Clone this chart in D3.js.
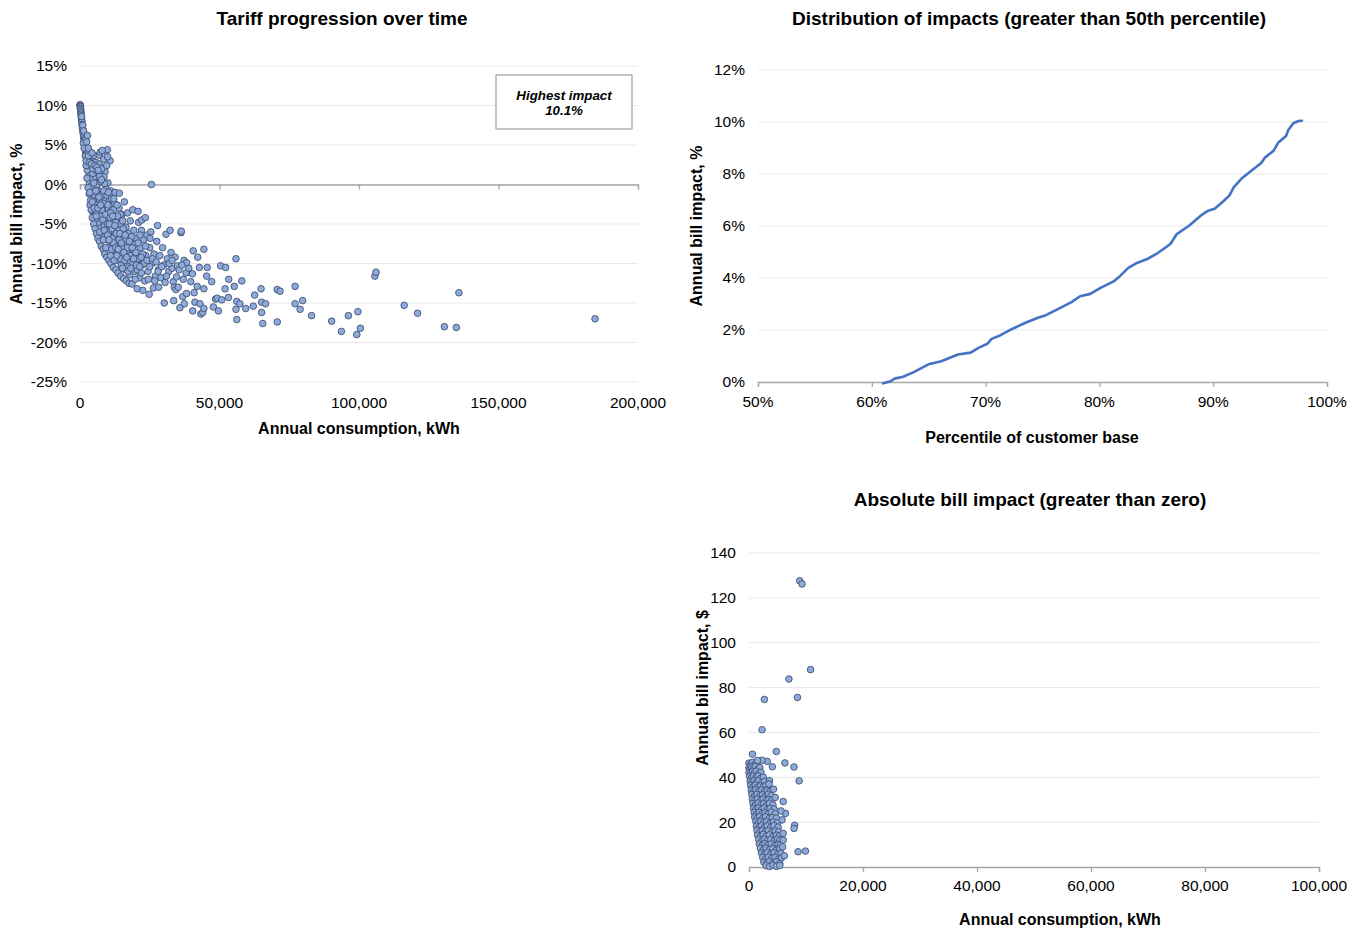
<!DOCTYPE html>
<html>
<head>
<meta charset="utf-8">
<script src="https://cdn.jsdelivr.net/npm/d3@7"></script>
<style>
  html, body { margin: 0; padding: 0; background: #ffffff; }
  svg { display: block; font-family: "Liberation Sans", Arial, sans-serif; }
</style>
</head>
<body>
<svg id="chart" width="1363" height="931"></svg>
<script>
// ---- Tariff progression: [annual consumption (thousand kWh), annual bill impact (%)]
const tariffPoints = [
  [0,10.1],[0.05,10.0],[0.1,10.05],[0.15,9.9],[0.2,9.8],[0.1,9.6],[0.25,9.5],[0.3,9.3],[0.35,9.1],[0.4,8.9],
  [0.45,8.7],[0.5,8.5],[0.55,8.3],[0.6,8.1],[0.7,7.9],[0.75,7.6],[0.8,7.4],[0.9,7.1],[1.0,6.9],[1.1,6.6],
  [1.2,6.4],[1.3,6.1],[1.4,5.8],[1.5,5.6],[1.6,5.3],[1.7,5.0],[1.8,4.8],[1.9,4.5],[2.0,4.3],[2.1,4.0],
  [2.2,3.8],[2.3,3.5],[2.5,3.2],[2.6,2.9],[2.8,2.6],[3.0,2.3],[3.1,2.0],[3.3,1.7],[3.5,1.4],[3.7,1.1],
  [3.9,0.8],[4.1,0.5],[4.3,0.2],[4.5,-0.1],[4.7,-0.4],[4.9,-0.7],[5.2,-1.0],[5.4,-1.3],[5.7,-1.6],[6.0,-1.9],[6.3,-2.2],
  [1.0,7.5],[0.6,8.6],[1.3,6.8],[1.8,5.6],[2.7,6.2],[2.4,4.6],[2.9,4.0],[3.4,3.6],[3.9,3.4],[4.4,3.0],
  [5.0,3.7],[5.7,2.8],[6.9,3.7],[7.3,4.1],[8.5,3.2],[9.3,4.2],[9.8,4.4],[10.8,3.0],[7.5,2.2],[6.3,1.1],
  [8.1,0.9],[10,0.2],[9.0,1.6],[4.8,2.2],[5.5,1.6],[6.6,0.3],[4.0,1.9],[3.6,2.6],[3.2,3.1],[2.8,3.5],
  [7.2,1.6],[8.8,0.1],[5.2,0.6],[6.0,-0.3],[7.0,-0.9],[8.2,-1.5],[9.4,-0.6],[11.0,-0.8],
  [3.0,1.0],[3.4,0.2],[3.8,-0.5],[4.2,0.8],[4.5,-1.4],[4.8,0.0],[5.0,-2.2],[5.3,-0.3],[5.6,1.0],[5.8,-2.8],
  [6.1,0.0],[6.4,-1.2],[6.7,-3.6],[7.0,-2.0],[7.3,0.4],[7.6,-1.4],[7.9,-4.4],[8.2,-2.8],[8.5,-0.8],[8.8,-3.6],
  [9.1,-2.0],[9.4,-4.6],[9.7,-1.4],[10.0,-3.6],[10.3,-5.6],[10.6,-2.0],[11.0,-4.6],[11.5,-3.0],[12.0,-5.8],[12.5,-2.4],
  [13.0,-4.2],[13.5,-7.0],[14.0,-3.0],[14.5,-5.0],[15.0,-3.8],[4.0,-0.2],[6.2,-2.6],[8.0,-3.2],[10.2,-1.0],[12.6,-1.0],
  [2.6,1.8],[3.2,2.4],[4.6,1.4],[5.9,1.8],[6.8,2.6],[7.8,2.0],[9.6,2.4],[8.6,1.0],
  [3.8,-2.0],[4.2,-2.8],[4.6,-3.5],[5.0,-4.0],[5.5,-3.2],[6.0,-3.5],[6.0,-4.6],[6.5,-5.0],[6.8,-2.8],[7.2,-4.0],
  [7.5,-5.5],[7.8,-3.2],[8.0,-6.0],[8.2,-4.5],[8.5,-2.4],[8.8,-5.2],[9.0,-6.6],[9.2,-3.8],[9.5,-7.0],[9.8,-5.0],
  [10.0,-2.6],[10.2,-6.1],[10.5,-8.0],[10.8,-4.2],[11.0,-7.2],[11.3,-1.8],[11.5,-5.6],[11.8,-8.5],[12.0,-3.2],[12.1,-1.8],
  [12.3,-6.6],[12.5,-9.0],[12.8,-4.8],[13.0,-7.8],[13.3,-2.6],[13.5,-9.6],[13.8,-5.8],[14.1,-1.1],[14.2,-8.6],[14.5,-3.8],
  [14.8,-10.2],[15.0,-6.8],[15.3,-4.6],[15.5,-9.2],[15.9,-2.2],[16.0,-7.6],[16.3,-10.8],[16.5,-5.4],[16.8,-8.4],[17.0,-3.6],
  [17.3,-9.8],[17.5,-6.2],[17.8,-11.4],[18.0,-4.6],[18.3,-7.4],[18.5,-10.4],[18.9,-3.2],[19.0,-8.8],[19.3,-5.8],[19.6,-11.0],
  [20.0,-6.8],[20.4,-9.6],[20.8,-3.4],[20.5,-13.2],[21.0,-4.8],[21.3,-11.8],[21.6,-8.0],[22.0,-5.8],[22.3,-10.2],[22.5,-13.4],
  [22.1,-4.5],[22.8,-7.0],[23.2,-12.2],[23.4,-4.2],[23.6,-9.0],[24.0,-6.4],[24.4,-11.0],[24.8,-13.9],[25.0,-8.0],[25.4,-6.0],
  [25.1,-6.8],[25.6,0.0],[25.8,-10.0],[26.3,-13.1],[26.5,-8.8],[27.0,-11.6],[27.5,-7.2],[27.8,-5.2],[28.1,-10.8],[28.2,-13.0],
  [28.6,-9.0],[29.0,-11.8],[29.6,-8.0],[30.0,-10.2],[30.2,-15.0],[30.5,-12.4],[30.8,-6.3],[31.3,-9.4],[31.8,-11.0],[32.3,-5.8],
  [32.6,-8.6],[33.0,-10.6],[33.4,-12.3],[33.6,-14.7],[33.8,-13.0],[34.1,-9.2],[34.4,-13.3],[34.6,-11.7],[34.9,-10.3],[35.2,-13.0],
  [35.8,-15.6],[36.2,-6.1],[36.3,-5.9],[36.8,-14.2],[37.3,-9.6],[37.4,-15.1],[38.2,-9.9],[38.2,-13.8],[38.8,-11.1],[39.7,-12.3],
  [40.3,-11.3],[40.4,-16.0],[40.6,-8.4],[40.9,-13.7],[41.2,-14.9],[42.0,-12.9],[42.2,-9.2],[42.8,-10.5],[43.0,-15.1],[43.3,-16.4],
  [44.0,-16.2],[44.4,-8.2],[44.4,-13.2],[44.4,-15.7],[45.4,-11.6],[45.6,-10.5],[47.2,-12.3],[47.8,-15.5],[48.6,-14.5],[49.2,-14.4],
  [49.6,-16.0],[50.4,-10.3],[50.8,-14.6],[52.0,-13.2],[52.2,-10.5],[53.2,-14.3],[53.3,-12.0],[55.3,-12.9],[55.9,-9.4],[55.9,-15.8],
  [56.2,-14.8],[56.2,-17.1],[57.3,-15.1],[58.0,-12.2],[59.4,-15.7],[62.1,-15.4],[62.6,-14.0],[64.9,-13.2],[65.1,-14.9],[65.1,-16.2],
  [65.5,-17.6],[66.5,-15.1],[70.7,-13.3],[71.7,-13.5],[70.7,-17.4],[77.1,-12.9],[77.1,-15.1],[78.9,-15.8],[79.8,-14.7],[83.0,-16.6],
  [90.2,-17.3],[93.7,-18.6],[96.2,-16.6],[99.6,-16.1],[100.5,-18.2],[99.2,-19.0],[105.7,-11.6],[106.1,-11.1],[116.2,-15.3],[121.0,-16.3],
  [130.6,-18.0],[134.9,-18.1],[135.8,-13.7],[184.6,-17.0],
  [10.5,-5.0],[11.0,-3.6],[11.5,-6.8],[12.0,-7.4],[12.5,-5.2],[13.0,-6.2],[13.5,-4.0],[14.0,-7.0],[14.5,-9.4],[15.0,-8.0],
  [15.5,-5.6],[16.0,-9.6],[16.5,-7.0],[17.0,-8.0],[17.5,-10.4],[18.0,-9.0],[18.5,-6.6],[19.0,-10.0],[19.5,-7.6],[20.0,-8.6],
  [20.5,-10.8],[21.0,-9.4],[21.5,-6.4],[22.0,-11.2],[22.5,-8.8],[23.0,-10.0],[23.5,-7.8],[24.0,-9.6],[24.5,-12.0],[25.0,-10.4],
  [26.0,-9.4],[26.8,-12.2],[27.3,-9.8],[28.0,-11.0],[29.3,-10.4],[31.0,-11.6],[32.0,-10.0],[33.0,-9.6],[35.5,-10.8],[36.5,-10.2],
  [37.0,-12.0],[38.0,-11.2],[39.0,-10.6],
  [2.2,2.4],[2.5,0.8],[2.9,-0.4],[3.3,-1.2],[3.6,-2.6],[4.0,-3.2],[4.4,-4.2],[4.9,-5.0],[5.4,-5.6],[5.9,-6.2],
  [6.4,-6.8],[7.0,-7.2],[7.6,-7.8],[8.3,-8.2],[8.9,-8.8],[9.6,-9.2],[10.3,-9.6],[11.1,-10.0],[11.9,-10.5],[12.8,-10.8],
  [13.6,-11.2],[14.6,-11.6],[15.6,-11.9],[16.6,-12.2],[17.6,-12.5],[18.6,-12.6],
  [3.5,-1.0],[4.4,-2.2],[5.1,-3.0],[5.8,-4.0],[6.4,-3.0],[7.1,-6.0],[7.4,-2.6],[8.4,-7.0],[8.7,-5.8],[9.3,-8.0],
  [9.9,-6.4],[10.4,-7.0],[10.9,-9.0],[11.4,-8.2],[11.7,-4.0],[12.2,-9.6],[12.8,-8.0],[13.2,-9.0],[13.7,-8.2],[14.3,-6.2],
  [14.8,-7.4],[15.2,-10.6],[15.7,-8.6],[16.2,-6.4],[16.7,-9.2],[17.2,-11.0],[17.7,-7.2],[18.2,-10.6],[18.7,-8.0],[19.2,-9.4],
  [19.8,-12.0],[20.2,-10.2],[20.8,-7.4],[21.4,-10.4],[21.9,-9.2],[1.2,5.2],[1.5,4.6],[1.9,3.6],[2.2,3.0],[2.4,5.4],
  [3.0,3.6],[3.4,2.8],[4.1,2.6],[4.6,2.0],[5.3,2.4],[6.0,2.2],[6.5,1.8],[7.0,1.0],[7.7,0.6],[5.0,0.2],
  [5.7,-0.8],[6.8,-1.6],[3.0,4.6],[4.3,4.0],[8.0,4.3],[9.9,3.5]
];
const tariffXTicks = [0, 50, 100, 150, 200];            // thousand kWh
const tariffYTicks = [15, 10, 5, 0, -5, -10, -15, -20, -25];
const highestImpact = 10.1;

// ---- Distribution of impacts: percentile of customer base (%) and bill impact (%)
const distPercentile = [61.0,61.65,62.0,62.76,63.68,64.98,66.1,67.57,68.68,69.42,70.16,70.53,71.27,72.38,73.5,74.6,75.3,76.4,77.55,78.3,79.2,80.1,81.25,81.8,82.54,83.3,84.2,85.13,86.24,86.8,87.9,89.0,89.56,90.13,90.87,91.42,91.8,92.53,93.46,94.2,94.57,95.3,95.7,96.4,96.6,97.04,97.5,97.8];
const distImpact     = [-0.05,0.03,0.13,0.2,0.38,0.68,0.8,1.06,1.13,1.32,1.47,1.66,1.79,2.05,2.28,2.47,2.57,2.81,3.07,3.3,3.39,3.62,3.87,4.07,4.39,4.58,4.73,4.96,5.31,5.69,6.02,6.43,6.59,6.66,6.94,7.17,7.49,7.84,8.16,8.41,8.64,8.89,9.2,9.46,9.69,9.95,10.04,10.05];
const distXTicks = [50, 60, 70, 80, 90, 100];
const distYTicks = [0, 2, 4, 6, 8, 10, 12];

// ---- Absolute bill impact: [annual consumption (thousand kWh), annual bill impact ($)]
const absolutePoints = [
  [0.0,46.3],[0.3,45.7],[0.6,46.6],[0.9,45.4],[1.2,46.1],
  [0.0,44.2],[0.2,43.6],[0.5,44.6],[0.8,43.9],[1.1,44.8],[1.5,43.4],[1.9,44.3],
  [0.0,42.1],[0.3,41.6],[0.6,42.5],[0.9,41.8],[1.3,42.7],[1.7,41.5],[2.1,42.2],
  [0.1,40.3],[0.4,39.6],[0.8,40.5],[1.2,39.8],[1.6,40.6],[2.0,39.5],[2.5,40.1],
  [0.2,38.2],[0.5,37.6],[0.9,38.5],[1.3,37.8],[1.7,38.4],[2.2,37.5],[2.7,38.1],
  [0.3,36.3],[0.7,35.7],[1.1,36.5],[1.5,35.6],[2.0,36.2],[2.5,35.8],[3.0,36.4],[3.5,35.5],
  [0.4,34.2],[0.8,33.6],[1.2,34.5],[1.7,33.8],[2.2,34.3],[2.7,33.5],[3.2,34.1],[3.7,33.7],
  [0.5,32.3],[0.9,31.5],[1.4,32.4],[1.9,31.7],[2.4,32.2],[2.9,31.6],[3.4,32.5],[3.9,31.8],
  [0.6,30.2],[1.0,29.6],[1.5,30.4],[2.0,29.7],[2.5,30.3],[3.0,29.5],[3.5,30.1],[4.0,29.8],
  [0.7,28.3],[1.1,27.6],[1.6,28.5],[2.1,27.8],[2.6,28.2],[3.1,27.5],[3.6,28.4],[4.2,27.7],
  [0.8,26.2],[1.2,25.6],[1.7,26.4],[2.2,25.7],[2.7,26.3],[3.2,25.5],[3.7,26.1],[4.4,25.8],
  [0.9,24.3],[1.3,23.5],[1.8,24.4],[2.3,23.7],[2.8,24.2],[3.3,23.6],[3.9,24.5],[4.6,23.8],
  [1.0,22.2],[1.4,21.6],[1.9,22.5],[2.4,21.7],[2.9,22.3],[3.5,21.5],[4.1,22.1],[4.8,21.8],
  [1.2,20.3],[1.6,19.6],[2.1,20.4],[2.6,19.8],[3.1,20.2],[3.7,19.5],[4.3,20.1],[5.0,19.7],
  [1.3,18.2],[1.7,17.5],[2.2,18.4],[2.7,17.7],[3.2,18.3],[3.8,17.6],[4.4,18.5],[5.1,17.8],
  [1.4,16.3],[1.9,15.6],[2.4,16.4],[2.9,15.8],[3.4,16.2],[4.0,15.5],[4.6,16.1],[5.2,15.7],
  [1.5,14.2],[2.0,13.6],[2.5,14.5],[3.0,13.7],[3.6,14.3],[4.2,13.5],[4.8,14.2],[5.3,13.8],
  [1.7,12.3],[2.2,11.5],[2.7,12.4],[3.2,11.7],[3.8,12.2],[4.4,11.6],[5.0,12.5],[5.4,11.8],
  [1.8,10.2],[2.3,9.6],[2.8,10.4],[3.3,9.7],[3.9,10.3],[4.5,9.5],[5.1,10.1],[5.5,9.8],
  [2.0,8.3],[2.5,7.6],[3.0,8.4],[3.6,7.8],[4.2,8.2],[4.8,7.5],[5.4,8.1],
  [2.2,6.2],[2.7,5.6],[3.2,6.4],[3.8,5.7],[4.4,6.3],[5.0,5.5],[5.6,6.1],
  [2.4,4.3],[2.9,3.6],[3.4,4.4],[4.0,3.8],[4.6,4.2],[5.2,3.5],[5.7,4.1],
  [2.6,2.2],[3.1,1.6],[3.6,2.4],[4.2,1.7],[4.8,2.3],[5.4,1.5],
  [3.0,0.6],[3.6,0.2],[4.2,0.8],[4.8,0.3],[5.4,0.7],
  [8.9,127.6],[9.3,126.2],[10.8,88.0],[7.0,83.8],[8.5,75.6],[2.7,74.7],[2.3,61.2],[0.6,50.3],[4.8,51.5],[6.3,46.4],
  [7.9,44.6],[8.8,38.4],[4.1,44.7],[3.2,47.1],[2.3,47.6],[1.5,47.5],[6.0,29.2],[6.4,23.9],[8.0,18.6],[7.9,17.2],
  [8.6,6.8],[9.9,7.1],[3.6,38.5],[3.5,37.0],[4.3,34.7],[4.6,31.0],[5.6,25.0],[5.8,21.0],[6.0,15.0],[5.9,9.0],
  [6.2,5.0],[6.0,12.0]
];
const absXTicks = [0, 20, 40, 60, 80, 100];              // thousand kWh
const absYTicks = [0, 20, 40, 60, 80, 100, 120, 140];

// ---- shared styling
const GRID = "#e9e9e9", AXIS = "#a6a6a6", TEXT = "#000000";
const DOT_FILL = "#8eaadb", DOT_STROKE = "#3f5174", LINE = "#4472c4";
const fmtThousands = d3.format(",");

const svg = d3.select("#chart");

function title(x, y, text) {
  svg.append("text").attr("x", x).attr("y", y).attr("text-anchor", "middle")
    .attr("font-size", 19).attr("font-weight", "bold").attr("fill", TEXT).text(text);
}
function axisTitle(x, y, text, rotate) {
  const t = svg.append("text").attr("text-anchor", "middle")
    .attr("font-size", 16).attr("font-weight", "bold").attr("fill", TEXT).text(text);
  if (rotate) t.attr("transform", `translate(${x},${y}) rotate(-90)`);
  else t.attr("x", x).attr("y", y);
}
function grid(g, x, y, ticks) {
  g.append("g").selectAll("line").data(ticks).join("line")
    .attr("x1", x.range()[0]).attr("x2", x.range()[1])
    .attr("y1", d => y(d)).attr("y2", d => y(d))
    .attr("stroke", GRID).attr("stroke-width", 1);
}
function yLabels(g, x, y, ticks, fmt) {
  g.append("g").selectAll("text").data(ticks).join("text")
    .attr("x", x.range()[0] - 13).attr("y", d => y(d)).attr("dy", "0.35em")
    .attr("text-anchor", "end").attr("font-size", 15.5).attr("fill", TEXT).text(fmt);
}
function xLabels(g, x, yPos, ticks, fmt) {
  g.append("g").selectAll("text").data(ticks).join("text")
    .attr("x", d => x(d)).attr("y", yPos).attr("dy", "0.35em")
    .attr("text-anchor", "middle").attr("font-size", 15.5).attr("fill", TEXT).text(fmt);
}
function baseAxis(g, x, yPos, ticks) {
  const ax = g.append("g").attr("transform", `translate(0,${yPos})`)
    .call(d3.axisBottom(x).tickValues(ticks).tickSize(5).tickFormat(""));
  ax.select(".domain").attr("stroke", AXIS).attr("stroke-width", 1.3);
  ax.selectAll(".tick line").attr("stroke", AXIS).attr("stroke-width", 1.3);
}
function dots(g, x, y, data) {
  g.append("g").selectAll("circle").data(data).join("circle")
    .attr("cx", d => x(d[0])).attr("cy", d => y(d[1])).attr("r", 3.3)
    .attr("fill", DOT_FILL).attr("stroke", DOT_STROKE).attr("stroke-width", 0.9);
}

// ===== Chart 1: Tariff progression over time
{
  const x = d3.scaleLinear().domain([0, 200]).range([80, 638]);
  const y = d3.scaleLinear().domain([-25, 15]).range([382, 66]);
  const g = svg.append("g");
  grid(g, x, y, tariffYTicks);
  baseAxis(g, x, y(0), tariffXTicks);
  yLabels(g, x, y, tariffYTicks, d => d + "%");
  xLabels(g, x, 403, tariffXTicks, d => fmtThousands(d * 1000));
  dots(g, x, y, tariffPoints);

  // highest impact call-out
  const box = g.append("g").attr("transform", "translate(496,75)");
  box.append("rect").attr("width", 136).attr("height", 54)
    .attr("fill", "#ffffff").attr("stroke", "#8c8c8c").attr("stroke-width", 1);
  box.append("text").attr("x", 68).attr("y", 25).attr("text-anchor", "middle")
    .attr("font-size", 13.3).attr("font-weight", "bold").attr("font-style", "italic").text("Highest impact");
  box.append("text").attr("x", 68).attr("y", 40).attr("text-anchor", "middle")
    .attr("font-size", 13.3).attr("font-weight", "bold").attr("font-style", "italic").text(highestImpact.toFixed(1) + "%");

  title(342, 25, "Tariff progression over time");
  axisTitle(359, 434, "Annual consumption, kWh", false);
  axisTitle(22, 224, "Annual bill impact, %", true);
}

// ===== Chart 2: Distribution of impacts
{
  const x = d3.scaleLinear().domain([50, 100]).range([758, 1327]);
  const y = d3.scaleLinear().domain([0, 12]).range([382, 70]);
  const g = svg.append("g");
  grid(g, x, y, distYTicks.filter(d => d > 0));
  baseAxis(g, x, y(0), distXTicks);
  yLabels(g, x, y, distYTicks, d => d + "%");
  xLabels(g, x, 402, distXTicks, d => d + "%");
  const line = d3.line().x((d, i) => x(distPercentile[i])).y(d => y(d)).curve(d3.curveLinear);
  g.append("path").datum(distImpact).attr("d", line)
    .attr("fill", "none").attr("stroke", LINE).attr("stroke-width", 2.6)
    .attr("stroke-linejoin", "round").attr("stroke-linecap", "round");

  title(1029, 25, "Distribution of impacts (greater than 50th percentile)");
  axisTitle(1032, 443, "Percentile of customer base", false);
  axisTitle(702, 226, "Annual bill impact, %", true);
}

// ===== Chart 3: Absolute bill impact
{
  const x = d3.scaleLinear().domain([0, 100]).range([749, 1319]);
  const y = d3.scaleLinear().domain([0, 140]).range([867, 553]);
  const g = svg.append("g");
  grid(g, x, y, absYTicks.filter(d => d > 0));
  baseAxis(g, x, y(0), absXTicks);
  yLabels(g, x, y, absYTicks, d => d);
  xLabels(g, x, 886, absXTicks, d => fmtThousands(d * 1000));
  dots(g, x, y, absolutePoints);

  title(1030, 506, "Absolute bill impact (greater than zero)");
  axisTitle(1060, 925, "Annual consumption, kWh", false);
  axisTitle(708, 688, "Annual bill impact, $", true);
}
</script>
</body>
</html>
